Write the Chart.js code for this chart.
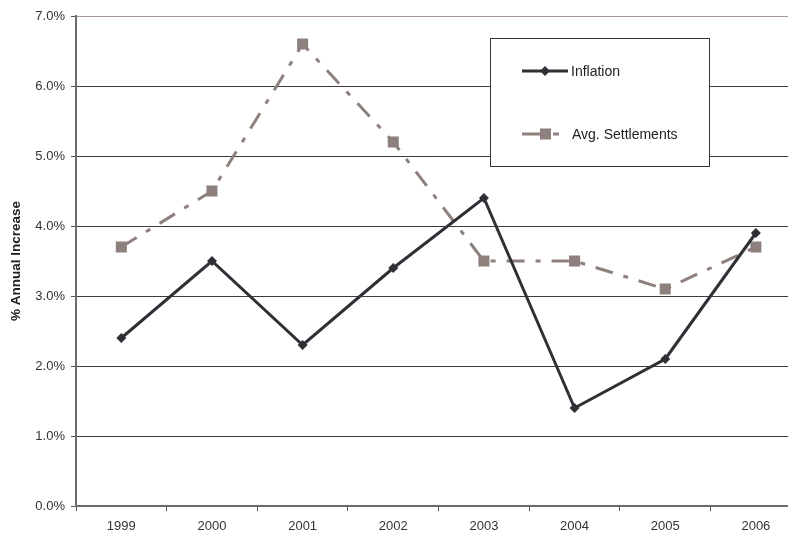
<!DOCTYPE html>
<html>
<head>
<meta charset="utf-8">
<script src="https://cdn.jsdelivr.net/npm/chart.js@4"></script>
<style>
  html, body { margin: 0; padding: 0; background: #fff; overflow: hidden; }
  #wrap { position: relative; width: 809px; height: 533px; }
</style>
</head>
<body>
<div id="wrap"><canvas id="chart"></canvas></div>
<script>
// Annual percentage increase: inflation vs. average wage settlements
const years = ['1999', '2000', '2001', '2002', '2003', '2004', '2005', '2006'];
const inflation = [2.4, 3.5, 2.3, 3.4, 4.4, 1.4, 2.1, 3.9];
const avgSettlements = [3.7, 4.5, 6.6, 5.2, 3.5, 3.5, 3.1, 3.7];
const yTicks = [0, 1, 2, 3, 4, 5, 6, 7];
const yTitle = '% Annual Increase';

const FONT = '"Liberation Sans", Arial, sans-serif';
const INF_COLOR = '#2f2f35';
const SET_COLOR = '#8e807c';

// Rotated y-axis title
const yTitlePlugin = {
  id: 'yTitle',
  afterDraw(chart) {
    const { ctx, chartArea } = chart;
    ctx.save();
    ctx.translate(16, (chartArea.top + chartArea.bottom) / 2);
    ctx.rotate(-Math.PI / 2);
    ctx.font = 'bold 13.5px ' + FONT;
    ctx.fillStyle = '#222';
    ctx.textAlign = 'center';
    ctx.textBaseline = 'middle';
    ctx.fillText(yTitle, 0, 0);
    ctx.restore();
  }
};

// Boxed legend inside the plot area
const boxLegendPlugin = {
  id: 'boxLegend',
  afterDatasetsDraw(chart) {
    const { ctx } = chart;
    const ds = chart.data.datasets;
    ctx.save();
    ctx.fillStyle = '#fff';
    ctx.fillRect(490, 38, 219, 128);
    ctx.strokeStyle = '#333';
    ctx.lineWidth = 1;
    ctx.strokeRect(490.5, 38.5, 219, 128);

    ctx.font = '14px ' + FONT;
    ctx.textBaseline = 'middle';

    // Inflation entry
    let y = 71;
    ctx.strokeStyle = ds[0].borderColor;
    ctx.lineWidth = 3;
    ctx.beginPath();
    ctx.moveTo(522, y);
    ctx.lineTo(568, y);
    ctx.stroke();
    ctx.fillStyle = ds[0].pointBackgroundColor;
    ctx.beginPath();
    ctx.moveTo(545, y - 5);
    ctx.lineTo(550, y);
    ctx.lineTo(545, y + 5);
    ctx.lineTo(540, y);
    ctx.closePath();
    ctx.fill();
    ctx.fillStyle = '#222';
    ctx.fillText(ds[0].label, 571, y + 1);

    // Avg. Settlements entry
    y = 134;
    ctx.strokeStyle = ds[1].borderColor;
    ctx.lineWidth = 3;
    ctx.beginPath();
    ctx.moveTo(522, y);
    ctx.lineTo(546, y);
    ctx.moveTo(553, y);
    ctx.lineTo(559, y);
    ctx.stroke();
    ctx.fillStyle = ds[1].pointBackgroundColor;
    ctx.fillRect(540, y - 5.5, 11, 11);
    ctx.fillStyle = '#222';
    ctx.fillText(ds[1].label, 572, y + 1);
    ctx.restore();
  }
};

new Chart(document.getElementById('chart'), {
  type: 'line',
  data: {
    labels: years,
    datasets: [
      {
        label: 'Inflation',
        data: inflation,
        borderColor: INF_COLOR,
        borderWidth: 3,
        pointStyle: 'rectRot',
        pointRadius: 5,
        pointBorderWidth: 0,
        pointBackgroundColor: INF_COLOR,
        pointBorderColor: INF_COLOR,
        tension: 0,
        order: 1
      },
      {
        label: 'Avg. Settlements',
        data: avgSettlements,
        borderColor: SET_COLOR,
        borderWidth: 3,
        borderDash: [18, 11, 5, 11],
        borderCapStyle: 'butt',
        pointStyle: 'rect',
        pointRadius: 7.8,
        pointBorderWidth: 0,
        pointBackgroundColor: SET_COLOR,
        pointBorderColor: SET_COLOR,
        tension: 0,
        order: 2
      }
    ]
  },
  options: {
    responsive: true,
    maintainAspectRatio: false,
    animation: false,
    layout: { padding: { top: 16, left: 0, right: 0, bottom: 0 } },
    plugins: {
      legend: { display: false },
      tooltip: { enabled: false }
    },
    scales: {
      x: {
        offset: true,
        afterFit(scale) { scale.height = 27; },
        grid: {
          offset: true,
          drawOnChartArea: false,
          drawTicks: true,
          tickLength: 5,
          tickColor: '#555'
        },
        border: { display: true, color: '#6a6a6a', width: 2 },
        ticks: {
          color: '#333',
          font: { family: FONT, size: 13 },
          padding: 8,
          maxRotation: 0
        }
      },
      y: {
        min: 0,
        max: 7,
        afterFit(scale) { scale.width = 76; },
        afterBuildTicks(scale) { scale.ticks = yTicks.map(v => ({ value: v })); },
        grid: {
          color: ctx => (ctx.tick && ctx.tick.value === 7 ? '#a89896' : '#3c3c3c'),
          lineWidth: 1,
          drawTicks: true,
          tickLength: 5,
          tickColor: '#555'
        },
        border: { display: true, color: '#6a6a6a', width: 2 },
        ticks: {
          color: '#333',
          font: { family: FONT, size: 13 },
          padding: 6,
          callback: v => v.toFixed(1) + '%'
        }
      }
    }
  },
  plugins: [yTitlePlugin, boxLegendPlugin]
});
</script>
</body>
</html>
